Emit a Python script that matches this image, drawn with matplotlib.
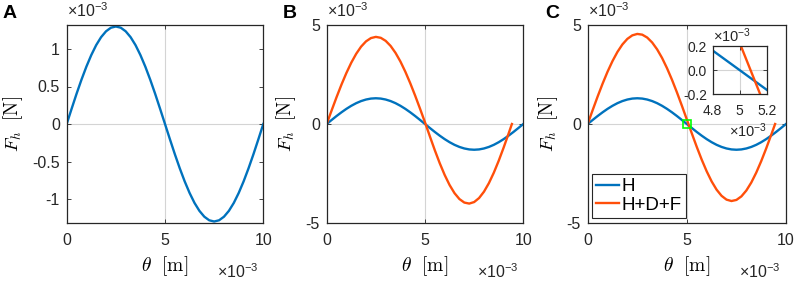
import numpy as np
import matplotlib.pyplot as plt
from matplotlib.patches import Rectangle

plt.rcParams['font.family'] = 'Liberation Sans'
plt.rcParams['mathtext.fontset'] = 'cm'
plt.rcParams['axes.unicode_minus'] = False

# all values in units of 1e-3 (theta in m, force in N)
theta_h = np.arange(0, 10.01, 0.25)
force_h = [0, 0.203, 0.402, 0.590, 0.764, 0.919, 1.052, 1.158, 1.236, 1.284, 1.300,
           1.284, 1.236, 1.158, 1.052, 0.919, 0.764, 0.590, 0.402, 0.203, 0,
           -0.203, -0.402, -0.590, -0.764, -0.919, -1.052, -1.158, -1.236, -1.284, -1.300,
           -1.284, -1.236, -1.158, -1.052, -0.919, -0.764, -0.590, -0.402, -0.203, 0]

theta_b = list(np.arange(0, 9.26, 0.25)) + [9.42]
force_hdf_b = [0, 0.684, 1.352, 1.987, 2.573, 3.097, 3.545, 3.908, 4.174, 4.340, 4.400,
               4.353, 4.199, 3.944, 3.593, 3.156, 2.639, 2.059, 1.430, 0.766, 0.082,
               -0.630, -1.327, -1.981, -2.572, -3.081, -3.491, -3.790, -3.968, -4.019,
               -3.942, -3.740, -3.418, -2.987, -2.460, -1.855, -1.191, -0.489, 0]

theta_c = list(np.arange(0, 9.26, 0.25)) + [9.45]
force_hdf_c = [0, 0.701, 1.385, 2.035, 2.638, 3.177, 3.641, 4.018, 4.299, 4.477, 4.549,
               4.512, 4.367, 4.118, 3.771, 3.336, 2.818, 2.235, 1.597, 0.922, 0.225,
               -0.474, -1.157, -1.802, -2.389, -2.900, -3.317, -3.627, -3.820, -3.890,
               -3.835, -3.656, -3.359, -2.956, -2.455, -1.876, -1.237, -0.557, 0]

blue = '#0072BD'
orange = '#FF4F0A'
edge = '#262626'
gridc = '#D4D4D4'

fig = plt.figure(figsize=(7.96, 2.81), dpi=100)
W, H = 796, 281


def add_ax(left, width):
    return fig.add_axes([left / W, (H - 223) / H, width / W, 198 / H])


def style(ax, fs=11.5):
    for s in ax.spines.values():
        s.set_color(edge)
        s.set_linewidth(0.9)
    ax.tick_params(direction='in', length=3, width=0.6, colors=edge,
                   labelsize=fs, top=True, right=True, labelcolor='#262626')


def exp_labels(ax, yx, yy, xx, xy, fs=11.5):
    ax.text(yx, yy, r'$\mathregular{\times10^{-3}}$', transform=ax.transAxes,
            ha='left', va='baseline', fontsize=fs, color='#262626')
    ax.text(xx, xy, r'$\mathregular{\times10^{-3}}$', transform=ax.transAxes,
            ha='right', va='baseline', fontsize=fs, color='#262626')


axes = [add_ax(66.7, 196.6), add_ax(326.7, 196.6), add_ax(587.7, 198.3)]
ylab_x = [-0.212, -0.146, -0.14]

for i, ax in enumerate(axes):
    ax.axvline(5, color=gridc, lw=0.8, zorder=0)
    ax.axhline(0, color=gridc, lw=0.8, zorder=0)
    ax.plot(theta_h, force_h, color=blue, lw=1.7, label='H')
    if i > 0:
        th = theta_b if i == 1 else theta_c
        fo = force_hdf_b if i == 1 else force_hdf_c
        ax.plot(th, fo, color=orange, lw=1.7, label='H+D+F')
    ax.set_xlim(0, 10)
    ax.set_xticks([0, 5, 10])
    if i == 0:
        ax.set_ylim(-1.32, 1.32)
        ax.set_yticks([-1, -0.5, 0, 0.5, 1])
        ax.set_yticklabels(['-1', '-0.5', '0', '0.5', '1'])
    else:
        ax.set_ylim(-5, 5)
        ax.set_yticks([-5, 0, 5])
    style(ax)
    ax.tick_params(axis='x', pad=7)
    ax.tick_params(axis='y', pad=5)
    ax.set_xlabel(r'$\theta\ \ [\mathrm{m}]$', fontsize=14)
    ax.xaxis.set_label_coords(0.5, -0.16)
    ax.xaxis.label.set_va('top')
    ax.set_ylabel(r'$F_h\ \ [\mathrm{N}]$', fontsize=13.5)
    ax.yaxis.set_label_coords(ylab_x[i], 0.5)
    exp_labels(ax, 0.0, 1.04, 0.975, -0.278)

for x, lab in zip([3, 283, 545], ['A', 'B', 'C']):
    fig.text(x / W, 1 - 18 / H, lab, fontsize=14, fontweight='bold', va='baseline')

axc = axes[2]
axc.add_patch(Rectangle((4.8, -0.2), 0.4, 0.4, fill=False, edgecolor='#00FF00',
                        lw=1.2, zorder=5))
leg = axc.legend(loc='lower left', bbox_to_anchor=(0.02, 0.024), fontsize=13.5,
                 borderpad=0.25, labelspacing=0.05, handlelength=1.2,
                 handletextpad=0.12, borderaxespad=0, fancybox=False,
                 framealpha=1, edgecolor=edge)
leg.get_frame().set_linewidth(0.8)

# inset zoom near theta = 5e-3
ins = fig.add_axes([712.7 / W, (H - 94.3) / H, 54 / W, 48.3 / H])
ins.axvline(5, color=gridc, lw=0.8, zorder=0)
ins.axhline(0, color=gridc, lw=0.8, zorder=0)
ins.plot(theta_h, force_h, color=blue, lw=1.7)
ins.plot(theta_c, force_hdf_c, color=orange, lw=1.7)
ins.set_xlim(4.8, 5.2)
ins.set_ylim(-0.2, 0.2)
ins.set_xticks([4.8, 5, 5.2])
ins.set_yticks([-0.2, 0, 0.2])
ins.set_xticklabels(['4.8', '5', '5.2'])
style(ins, fs=10)
ins.tick_params(axis='x', pad=7)
ins.tick_params(axis='y', pad=4)
exp_labels(ins, 0.0, 1.08, 1.0, -0.884, fs=10.5)

fig.savefig('out.png', dpi=100)
